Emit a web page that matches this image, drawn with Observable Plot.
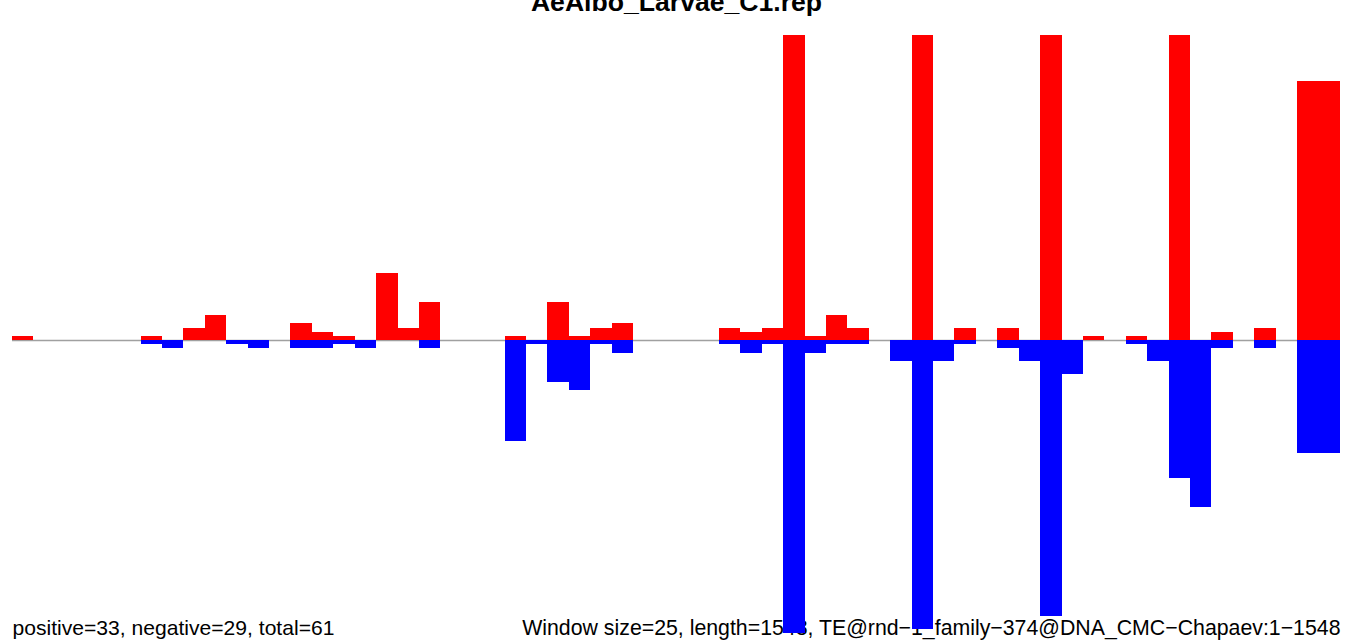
<!DOCTYPE html>
<html>
<head>
<meta charset="utf-8">
<script src="https://cdn.jsdelivr.net/npm/d3@7"></script>
<script src="https://cdn.jsdelivr.net/npm/@observablehq/plot@0.6"></script>
<style>
  html, body { margin: 0; padding: 0; background: #fff; }
</style>
</head>
<body>
<div id="chart"></div>
<script>
// Per-window read counts (window size 25 over 1548 bp)
const positive = [1,0,0,0,0,0,1,0,3,6, 0,0,0,4,2,1,0,16,3,9, 0,0,0,1,0,9,1,3,4,0, 0,0,0,3,2,3,90,1,6,3, 0,0,90,0,3,0,3,0,90,0, 1,0,1,0,90,0,2,0,3,0, 62,62];
const negative = [0,0,0,0,0,0,1,2,0,0, 1,2,0,2,2,1,2,0,0,2, 0,0,0,24,1,10,12,1,3,0, 0,0,0,1,3,1,70,3,1,1, 0,5,69,5,1,0,2,5,66,8, 0,0,1,5,33,40,2,0,2,0, 27,27];
const windows = positive.map((_, i) => i);

const titleText = "AeAlbo_Larvae_C1.rep";
const leftText = "positive=33, negative=29, total=61";
const rightText = "Window size=25, length=1548, TE@rnd\u22121_family\u2212374@DNA_CMC\u2212Chapaev:1\u22121548";

const posData = windows.map(i => ({w: i, v: positive[i]}));
const negData = windows.map(i => ({w: i, v: -negative[i]}));

const font = "'Liberation Sans', Arial, Helvetica, sans-serif";

const chart = Plot.plot({
  width: 1352,
  height: 641,
  marginTop: 35,
  marginBottom: 0,
  marginLeft: 12,
  marginRight: 12,
  style: {fontFamily: font, background: "white", color: "black"},
  x: {type: "band", domain: windows, padding: 0, round: false, axis: null},
  y: {domain: [-71.9, 72.9], axis: null},
  marks: [
    Plot.ruleY([0], {stroke: "#a0a0a0", strokeWidth: 1.5}),
    Plot.text([titleText], {frameAnchor: "top", textAnchor: "middle", lineAnchor: "bottom", dy: -25, fontSize: 26.6, fontWeight: "bold", fill: "black"}),
    Plot.text([leftText], {frameAnchor: "bottom-left", textAnchor: "start", lineAnchor: "bottom", dy: -7, fontSize: 21.1, fill: "black"}),
    Plot.text([rightText], {frameAnchor: "bottom-right", textAnchor: "end", lineAnchor: "bottom", dy: -7, fontSize: 21.3, fill: "black"}),
    Plot.barY(posData, {x: "w", y: "v", fill: "#ff0000", inset: 0, clip: true, shapeRendering: "crispEdges"}),
    Plot.barY(negData, {x: "w", y: "v", fill: "#0000ff", inset: 0, clip: true, shapeRendering: "crispEdges"})
  ]
});
document.getElementById("chart").appendChild(chart);
</script>
</body>
</html>
